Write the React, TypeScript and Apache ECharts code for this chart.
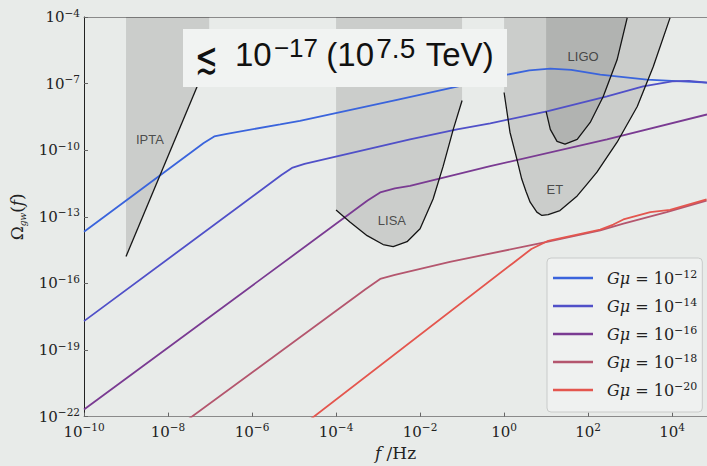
import React, { useEffect, useRef } from "react";
import * as echarts from "echarts";

// ---- axis ranges (log10 of value) ----
const X_MIN = -10;
const X_MAX = 4.83;
const Y_MIN = -22;
const Y_MAX = -4;
const X_INTERVAL = 2;
const Y_INTERVAL = 3;

// ---- series (log10 f, log10 Omega_gw) ----
const seriesNames = ["Gμ = 10^-12", "Gμ = 10^-14", "Gμ = 10^-16", "Gμ = 10^-18", "Gμ = 10^-20"];
const seriesExponents = ["−12", "−14", "−16", "−18", "−20"];
const seriesColors = ["#3a64dc", "#5050c8", "#7a3b92", "#b4566e", "#e4564e"];

const g12LogF = [-10, -7.15, -6.9, -6.6, -5.33, -4.86, -2.55, -1.12, 0.07, 0.6, 1.1, 1.6, 2.29, 3.4, 4.83];
const g12LogOmega = [-13.67, -9.68, -9.38, -9.26, -8.84, -8.68, -7.73, -7.14, -6.6, -6.4, -6.33, -6.38, -6.6, -6.82, -6.96];

const g14LogF = [-10, -5.3, -5.05, -4.75, -2.24, -1.12, -0.33, 1.02, 2.45, 3.31, 4.0, 4.4, 4.83];
const g14LogOmega = [-17.7, -11.12, -10.8, -10.62, -9.51, -9.06, -8.79, -8.25, -7.58, -7.13, -6.9, -6.88, -6.96];

const g16LogF = [-10, -3.25, -2.95, -2.6, -2.24, -0.33, 2.45, 4.83];
const g16LogOmega = [-21.68, -12.27, -11.9, -11.72, -11.61, -10.72, -9.51, -8.39];

const g18LogF = [-10, -3.3, -2.95, -2.6, -1.29, 1.02, 2.29, 2.84, 3.87, 4.82];
const g18LogOmega = [-25.57, -16.26, -15.8, -15.62, -15.03, -14.13, -13.61, -13.31, -12.79, -12.27];

const g20LogF = [-6, 0.21, 0.65, 1.05, 2.29, 2.6, 2.84, 3.48, 3.95, 4.82];
const g20LogOmega = [-24.15, -15.09, -14.45, -14.08, -13.58, -13.35, -13.12, -12.79, -12.69, -12.22];

// ---- detector sensitivity curves ----
const iptaLogF = [-9.0, -7.02];
const iptaLogOmega = [-14.79, -5.83];

const lisaLogF = [-4.0, -3.67, -3.26, -2.88, -2.64, -2.31, -2.0, -1.69, -1.45, -1.21, -1.0];
const lisaLogOmega = [-12.69, -13.23, -13.85, -14.25, -14.34, -14.12, -13.54, -12.2, -10.72, -9.06, -7.76];

const etLogF = [0.0, 0.14, 0.31, 0.42, 0.52, 0.62, 0.78, 0.9, 1.05, 1.33, 1.74, 1.97, 2.21, 2.69, 3.17, 3.55, 3.95];
const etLogOmega = [-7.4, -9.19, -10.45, -11.3, -11.85, -12.34, -12.79, -12.94, -12.9, -12.72, -12.06, -11.54, -10.99, -9.64, -8.03, -6.24, -4.04];

const ligoLogF = [1.0, 1.1, 1.26, 1.45, 1.74, 2.05, 2.36, 2.69, 2.93];
const ligoLogOmega = [-8.25, -9.06, -9.6, -9.73, -9.51, -8.75, -7.58, -5.93, -4.04];

const detectorLabels = ["IPTA", "LISA", "ET", "LIGO"];
const detectorLabelLogF = [-8.43, -2.67, 1.21, 1.88];
const detectorLabelLogOmega = [-9.51, -13.18, -11.79, -5.79];

const SERIF = "'DejaVu Serif', 'Liberation Serif', serif";
const SANS = "'Liberation Sans', 'DejaVu Sans', sans-serif";

const zip = (a: number[], b: number[]) => a.map((v, i) => [v, b[i]]);
const expText = (v: number) => (v < 0 ? "−" : "") + Math.abs(v);

function bandPolygon(curveF: number[], curveO: number[]): number[][] {
  const pts = zip(curveF, curveO);
  return [[curveF[0], Y_MAX], ...pts, [curveF[curveF.length - 1], Y_MAX]];
}

export default function App() {
  const ref = useRef<HTMLDivElement>(null);

  useEffect(() => {
    if (!ref.current) return;
    const chart = echarts.init(ref.current, undefined, { renderer: "svg" });

    const lineSeries = [
      [g12LogF, g12LogOmega],
      [g14LogF, g14LogOmega],
      [g16LogF, g16LogOmega],
      [g18LogF, g18LogOmega],
      [g20LogF, g20LogOmega],
    ].map(([f, o], i) => ({
      type: "line",
      name: seriesNames[i],
      data: zip(f, o),
      symbol: "none",
      showSymbol: false,
      clip: true,
      z: 3,
      lineStyle: { color: seriesColors[i], width: 1.8 },
      itemStyle: { color: seriesColors[i] },
    }));

    const band = (name: string, pts: number[][], fill: string) => ({
      type: "custom",
      name,
      silent: true,
      z: 1,
      clip: true,
      data: pts,
      renderItem: (params: any, api: any) => {
        if (params.dataIndex !== 0) return { type: "group", children: [] };
        return {
          type: "polygon",
          shape: { points: pts.map((p) => api.coord(p)) },
          style: { fill },
        };
      },
    });

    const bandFill = "rgba(0,0,0,0.125)";

    const curve = (name: string, f: number[], o: number[]) => ({
      type: "line",
      name,
      data: zip(f, o),
      symbol: "none",
      showSymbol: false,
      silent: true,
      z: 4,
      lineStyle: { color: "#151515", width: 1.3 },
    });

    const option: any = {
      animation: false,
      backgroundColor: "#e8ebe9",
      grid: { left: 84, right: 0, top: 17, bottom: 47, containLabel: false },
      xAxis: [
        {
          type: "value",
          min: X_MIN,
          max: X_MAX,
          interval: X_INTERVAL,
          position: "bottom",
          name: "{i|f}{r| /Hz}",
          nameLocation: "middle",
          nameGap: 26,
          nameTextStyle: {
            rich: {
              i: { fontFamily: SERIF, fontStyle: "italic", fontSize: 17, color: "#222" },
              r: { fontFamily: SERIF, fontSize: 17, color: "#222" },
            },
          },
          axisLine: { show: true, onZero: false, lineStyle: { color: "#8a8a8a", width: 1 } },
          axisTick: { show: true, inside: true, length: 4, lineStyle: { color: "#666" } },
          splitLine: { show: false },
          axisLabel: {
            showMaxLabel: false,
            margin: 5,
            formatter: (v: number) =>
              Number.isInteger(v) ? `{b|10}{s|${expText(v)}}` : "",
            rich: {
              b: { fontFamily: SERIF, fontSize: 15, color: "#222", lineHeight: 20 },
              s: { fontFamily: SERIF, fontSize: 10.5, color: "#222", verticalAlign: "top", lineHeight: 11 },
            },
          },
        },
        {
          type: "value",
          min: X_MIN,
          max: X_MAX,
          position: "top",
          axisLine: { show: true, onZero: false, lineStyle: { color: "#8a8a8a", width: 1 } },
          axisTick: { show: false },
          axisLabel: { show: false },
          splitLine: { show: false },
        },
      ],
      yAxis: {
        type: "value",
        min: Y_MIN,
        max: Y_MAX,
        interval: Y_INTERVAL,
        name: "{o|Ω}{s|gw}{o|(}{i|f}{o|)}",
        nameLocation: "middle",
        nameRotate: 90,
        nameGap: 48,
        nameTextStyle: {
          rich: {
            o: { fontFamily: SERIF, fontSize: 17, color: "#222", lineHeight: 22 },
            i: { fontFamily: SERIF, fontStyle: "italic", fontSize: 17, color: "#222", lineHeight: 22 },
            s: { fontFamily: SERIF, fontStyle: "italic", fontSize: 9, color: "#222", verticalAlign: "bottom", lineHeight: 12 },
          },
        },
        axisLine: { show: true, onZero: false, lineStyle: { color: "#222", width: 1 } },
        axisTick: { show: true, inside: true, length: 4, lineStyle: { color: "#666" } },
        splitLine: { show: false },
        axisLabel: {
          margin: 4,
          formatter: (v: number) => `{b|10}{s|${expText(v)}}`,
          rich: {
            b: { fontFamily: SERIF, fontSize: 15, color: "#222", lineHeight: 20 },
            s: { fontFamily: SERIF, fontSize: 10.5, color: "#222", verticalAlign: "top", lineHeight: 11 },
          },
        },
      },
      legend: {
        data: seriesNames,
        orient: "vertical",
        left: 547,
        top: 258,
        icon: "rect",
        itemWidth: 40,
        itemHeight: 2.5,
        itemGap: 11,
        padding: [11, 5, 14, 6],
        backgroundColor: "rgba(240,242,241,0.85)",
        borderColor: "#c9cbca",
        borderWidth: 1,
        borderRadius: 4,
        formatter: (name: string) => {
          const i = seriesNames.indexOf(name);
          return `{g|Gμ}{e| = 10}{s|${seriesExponents[i]}}`;
        },
        textStyle: {
          padding: [0, 0, 0, 9],
          rich: {
            g: { fontFamily: SERIF, fontStyle: "italic", fontSize: 16, color: "#222", lineHeight: 18 },
            e: { fontFamily: SERIF, fontSize: 16, color: "#222", lineHeight: 18 },
            s: { fontFamily: SERIF, fontSize: 11, color: "#222", verticalAlign: "top", lineHeight: 10 },
          },
        },
      },
      series: [
        band("IPTA band", bandPolygon(iptaLogF, iptaLogOmega), bandFill),
        band("LISA band", bandPolygon(lisaLogF, lisaLogOmega), bandFill),
        band("ET band", bandPolygon(etLogF, etLogOmega), bandFill),
        band("LIGO band", bandPolygon(ligoLogF, ligoLogOmega), bandFill),
        ...lineSeries,
        curve("IPTA", iptaLogF, iptaLogOmega),
        curve("LISA", lisaLogF, lisaLogOmega),
        curve("ET", etLogF, etLogOmega),
        curve("LIGO", ligoLogF, ligoLogOmega),
        {
          type: "scatter",
          name: "labels",
          silent: true,
          symbolSize: 1,
          z: 5,
          itemStyle: { color: "rgba(0,0,0,0)" },
          data: detectorLabels.map((n, i) => ({ name: n, value: [detectorLabelLogF[i], detectorLabelLogOmega[i]] })),
          label: {
            show: true,
            position: "inside",
            formatter: "{b}",
            color: "#2a2a2a",
            fontFamily: SANS,
            fontSize: 13,
          },
        },
      ],
      graphic: [
        {
          type: "rect",
          z: 100,
          shape: { x: 183, y: 29, width: 324, height: 58 },
          style: { fill: "#f1f3f2" },
        },
        {
          type: "text",
          z: 101,
          x: 207,
          y: 58,
          scaleX: 0.62,
          style: {
            text: "≲",
            fontFamily: "'DejaVu Sans', sans-serif",
            fontWeight: 200,
            fontSize: 44,
            fill: "#111",
            align: "center",
            verticalAlign: "middle",
          },
        },
        {
          type: "text",
          z: 101,
          x: 235,
          y: 54.5,
          style: {
            text: "{n|10}{g| }{s|−17}{h| }{n|(10}{g| }{t|7.5}{k| }{n|TeV)}",
            align: "left",
            verticalAlign: "middle",
            fill: "#111",
            rich: {
              n: { fontFamily: SANS, fontSize: 33, lineHeight: 40, fill: "#111" },
              s: { fontFamily: SANS, fontSize: 26, lineHeight: 24, verticalAlign: "top", fill: "#111" },
              t: { fontFamily: SANS, fontSize: 28, lineHeight: 24, verticalAlign: "top", fill: "#111" },
              g: { fontFamily: SANS, fontSize: 8, lineHeight: 40 },
              h: { fontFamily: SANS, fontSize: 30, lineHeight: 40 },
              k: { fontFamily: SANS, fontSize: 38, lineHeight: 40 },
            },
          },
        },
      ],
    };

    chart.setOption(option);
    return () => chart.dispose();
  }, []);

  return (
    <div
      ref={ref}
      style={{ position: "fixed", left: 0, top: 0, width: 707, height: 466 }}
    />
  );
}
